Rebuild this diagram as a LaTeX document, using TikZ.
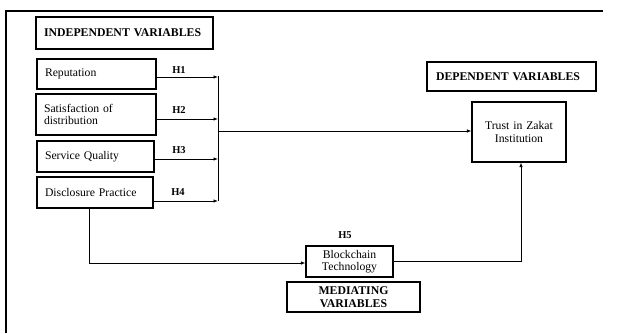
\documentclass[tikz,border=0pt]{standalone}
\usepackage{fontspec}
\setmainfont{Liberation Serif}
\usetikzlibrary{arrows.meta}
\begin{document}
\begin{tikzpicture}[x=1pt,y=-1pt,
  box/.style={draw, line width=1.2pt, inner ysep=0pt, inner xsep=8pt, anchor=center,
    font=\fontsize{11.7}{12.5}\selectfont},
  lbox/.style={box, align=left},
  cbox/.style={box, align=center, inner xsep=0pt},
  head/.style={font=\fontsize{11.8}{12.5}\selectfont\bfseries},
  hlab/.style={font=\fontsize{10.5}{12}\selectfont\bfseries, inner sep=0pt},
  arr/.style={line width=0.8pt, -{Latex[length=4.5pt,width=3.5pt]}},
  conn/.style={line width=0.8pt}]
\useasboundingbox (0,0) rectangle (620,333);
\fill[white] (0,0) rectangle (620,333);
% frame
\draw[line width=2pt] (6,333) -- (6,11) -- (603,11);
% boxes
\node[lbox, head, text width=161pt, minimum height=32pt] (indep) at (124.5,33) {INDEPENDENT VARIABLES};
\node[lbox, text width=103pt, minimum height=30pt] (rep) at (96.5,74) {Reputation};
\node[lbox, text width=104pt, minimum height=41pt] (sat) at (96,114.5) {Satisfaction of\\distribution};
\node[lbox, text width=101pt, minimum height=31pt] (serv) at (95.5,156.5) {Service Quality};
\node[lbox, text width=100pt, minimum height=31pt] (disc) at (95,192.5) {Disclosure Practice};
\node[lbox, head, inner xsep=9pt, text width=151pt, minimum height=29pt] (dep) at (511.5,76.5) {DEPENDENT VARIABLES};
\node[cbox, text width=94pt, minimum height=60pt] (trust) at (519,132) {Trust in Zakat\\Institution};
\node[cbox, text width=87pt, minimum height=31pt] (block) at (349.5,261.5) {Blockchain\\Technology};
\node[cbox, head, text width=133pt, minimum height=30pt] (med) at (353.5,297) {MEDIATING\\VARIABLES};
% junction bar
\coordinate (jtop) at (218,76);
\coordinate (jbot) at (218,201);
\coordinate (j1) at (218,77);
\coordinate (j2) at (218,119);
\coordinate (j3) at (218,159);
\coordinate (j4) at (218,201);
\coordinate (jm) at (218,131);
\draw[conn] (jtop) -- (jbot);
\draw[arr] (rep.east |- j1) -- (j1);
\draw[arr] (sat.east |- j2) -- (j2);
\draw[arr] (serv.east |- j3) -- (j3);
\draw[arr] (disc.east |- j4) -- (j4);
\draw[arr] (jm) -- (trust.west |- jm);
% H labels
\node[hlab] (h1) at (179,70) {H1};
\node[hlab] (h2) at (179,110) {H2};
\node[hlab] (h3) at (179,150) {H3};
\node[hlab] (h4) at (178,192) {H4};
\node[hlab] (h5) at (345,235) {H5};
% mediating paths
\coordinate (dx) at (89,0);
\coordinate (ty) at (0,263);
\draw[arr] (disc.south -| dx) -- (dx |- ty) -- (block.west |- ty);
\coordinate (tx) at (521,0);
\draw[arr] (block.east) -| (trust.south -| tx);
\end{tikzpicture}
\end{document}
